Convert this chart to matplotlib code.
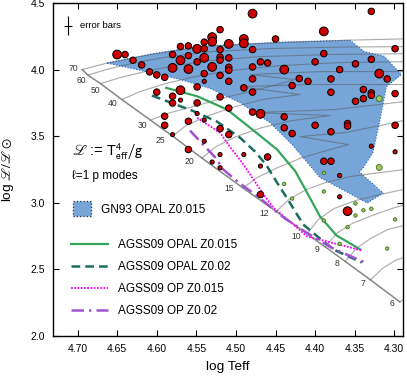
import matplotlib
matplotlib.use("Agg")
import matplotlib.pyplot as plt
from matplotlib.patches import Polygon, Patch
from matplotlib.lines import Line2D
import numpy as np

plt.rcParams['font.family'] = ['Liberation Sans', 'DejaVu Sans']
plt.rcParams['mathtext.fontset'] = 'custom'
plt.rcParams['mathtext.rm'] = 'Liberation Sans'
plt.rcParams['mathtext.it'] = 'Liberation Sans:italic'
plt.rcParams['mathtext.bf'] = 'Liberation Sans:bold'

# ---------------- data ----------------
# ZAMS masses and positions
masses = [70, 60, 50, 40, 30, 25, 20, 15, 12, 10, 9, 8, 7, 6]
zams_T = [4.694, 4.687, 4.671, 4.644, 4.608, 4.580, 4.543, 4.491, 4.449, 4.410, 4.387, 4.362, 4.330, 4.293]
zams_L = [4.000, 3.959, 3.895, 3.775, 3.621, 3.501, 3.336, 3.111, 2.935, 2.766, 2.668, 2.560, 2.421, 2.256]

# evolutionary tracks (log Teff, log L)
trk70_T = [4.694, 4.663, 4.608, 4.545, 4.444, 4.356, 4.277]
trk70_L = [4.000, 4.049, 4.113, 4.173, 4.203, 4.221, 4.232]
trk60_T = [4.687, 4.659, 4.621, 4.583, 4.532, 4.457, 4.368, 4.277]
trk60_L = [3.959, 4.008, 4.060, 4.098, 4.135, 4.158, 4.169, 4.173]
trk50_T = [4.671, 4.646, 4.615, 4.577, 4.532, 4.469, 4.381, 4.277]
trk50_L = [3.895, 3.940, 3.985, 4.030, 4.068, 4.098, 4.113, 4.120]
trk40_T = [4.644, 4.621, 4.589, 4.551, 4.507, 4.444, 4.368, 4.277]
trk40_L = [3.775, 3.835, 3.895, 3.948, 3.993, 4.030, 4.053, 4.060]
trk30_T = [4.608, 4.583, 4.549, 4.514, 4.472, 4.425, 4.482, 4.394, 4.277]
trk30_L = [3.621, 3.677, 3.730, 3.790, 3.850, 3.925, 3.963, 3.985, 3.985]
trk25_T = [4.580, 4.563, 4.538, 4.505, 4.467, 4.419, 4.495, 4.406, 4.277]
trk25_L = [3.501, 3.580, 3.647, 3.715, 3.775, 3.813, 3.872, 3.888, 3.888]
trk20_T = [4.543, 4.525, 4.500, 4.467, 4.429, 4.381, 4.476, 4.375, 4.277]
trk20_L = [3.336, 3.422, 3.497, 3.565, 3.617, 3.655, 3.677, 3.700, 3.767]
trk15_T = [4.491, 4.473, 4.447, 4.416, 4.381, 4.358, 4.419, 4.362, 4.318, 4.277]
trk15_L = [3.111, 3.190, 3.265, 3.340, 3.400, 3.437, 3.497, 3.527, 3.580, 3.632]
trk12_T = [4.449, 4.433, 4.411, 4.387, 4.356, 4.318, 4.277]
trk12_L = [2.935, 3.025, 3.100, 3.152, 3.197, 3.227, 3.257]
trk10_T = [4.410, 4.396, 4.376, 4.349, 4.318, 4.277]
trk10_L = [2.766, 2.875, 2.957, 3.017, 3.062, 3.115]
trk9_T = [4.387, 4.373, 4.353, 4.328, 4.299, 4.277]
trk9_L = [2.668, 2.770, 2.845, 2.905, 2.965, 3.002]
trk8_T = [4.362, 4.348, 4.330, 4.308, 4.277]
trk8_L = [2.560, 2.657, 2.732, 2.800, 2.845]
trk7_T = [4.330, 4.315, 4.299, 4.277]
trk7_L = [2.421, 2.507, 2.567, 2.612]
trk6_T = [4.293, 4.277]
trk6_L = [2.256, 2.320]

# GN93 OPAL Z0.015 instability region
gn93_T = [4.663, 4.608, 4.545, 4.444, 4.356, 4.338, 4.313, 4.291, 4.310, 4.318, 4.327,
          4.339, 4.344, 4.314, 4.334, 4.394, 4.428, 4.457, 4.495, 4.532, 4.570, 4.608]
gn93_L = [4.049, 4.116, 4.176, 4.206, 4.221, 4.135, 4.101, 3.963, 3.872, 3.625, 3.377,
          3.265, 3.231, 3.073, 2.998, 3.190, 3.430, 3.602, 3.752, 3.857, 3.925, 3.978]

# AGSS09 instability boundaries
opal015_T = [4.588, 4.549, 4.511, 4.474, 4.448, 4.425, 4.410, 4.394, 4.373, 4.343]
opal015_L = [3.863, 3.800, 3.700, 3.525, 3.400, 3.237, 3.075, 2.899, 2.755, 2.650]
opal02_T = [4.606, 4.554, 4.524, 4.495, 4.476, 4.462, 4.449, 4.440, 4.432, 4.415, 4.397, 4.377, 4.341]
opal02_L = [3.805, 3.689, 3.610, 3.490, 3.385, 3.287, 3.160, 3.077, 3.002, 2.837, 2.747, 2.650, 2.552]
op015_T = [4.549, 4.520, 4.507, 4.495, 4.482, 4.466, 4.453, 4.435, 4.410, 4.385, 4.341]
op015_L = [3.638, 3.525, 3.415, 3.325, 3.212, 3.070, 2.965, 2.875, 2.747, 2.710, 2.642]
op02_T = [4.558, 4.539, 4.526, 4.516, 4.501, 4.488, 4.472, 4.457, 4.438, 4.419, 4.397, 4.375, 4.337]
op02_L = [3.542, 3.422, 3.340, 3.250, 3.175, 3.115, 3.047, 2.972, 2.882, 2.807, 2.725, 2.650, 2.552]

# observed stars
red_T = [4.479, 4.329, 4.520, 4.389, 4.450, 4.490, 4.490, 4.530, 4.530, 4.540,
         4.509, 4.570, 4.560, 4.549, 4.540, 4.520, 4.479, 4.299, 4.389, 4.650,
         4.640, 4.580, 4.560, 4.540, 4.520, 4.520, 4.509, 4.570, 4.630, 4.549,
         4.469, 4.460, 4.400, 4.349, 4.329, 4.619, 4.580, 4.560, 4.530, 4.509,
         4.509, 4.479, 4.439, 4.369, 4.609, 4.600, 4.590, 4.540, 4.520, 4.540,
         4.509, 4.479, 4.420, 4.409, 4.380, 4.319, 4.309, 4.549, 4.490, 4.479,
         4.429, 4.380, 4.339, 4.329, 4.329, 4.299, 4.349, 4.339, 4.600, 4.570,
         4.580, 4.580, 4.570, 4.549, 4.520, 4.509, 4.479, 4.469, 4.439, 4.590,
         4.590, 4.580, 4.560, 4.549, 4.540, 4.520, 4.509, 4.540, 4.560, 4.520,
         4.530, 4.520, 4.490, 4.460, 4.469, 4.469, 4.439, 4.429, 4.400, 4.359,
         4.359, 4.380, 4.299, 4.329, 4.299, 4.389, 4.380, 4.369, 4.369, 4.359]
red_L = [4.420, 4.437, 4.300, 4.287, 4.230, 4.230, 4.197, 4.244, 4.210, 4.206,
         4.193, 4.173, 4.178, 4.156, 4.157, 4.150, 4.150, 4.157, 4.120, 4.113,
         4.113, 4.113, 4.105, 4.088, 4.094, 4.071, 4.088, 4.070, 4.070, 4.058,
         4.058, 4.050, 4.058, 4.043, 4.077, 4.035, 4.013, 4.004, 4.020, 4.017,
         3.995, 4.020, 4.000, 4.000, 3.983, 3.960, 3.942, 3.970, 3.957, 3.912,
         3.912, 3.930, 3.933, 3.912, 3.930, 3.970, 3.930, 3.870, 3.863, 3.831,
         3.880, 3.830, 3.850, 3.825, 3.807, 3.820, 3.762, 3.782, 3.831, 3.845,
         3.800, 3.749, 3.771, 3.750, 3.795, 3.711, 3.681, 3.668, 3.645, 3.650,
         3.582, 3.512, 3.612, 3.670, 3.621, 3.557, 3.512, 3.462, 3.400, 3.362,
         3.306, 3.263, 3.362, 3.344, 3.276, 3.062, 3.563, 3.520, 3.582, 3.595,
         3.576, 3.533, 3.582, 3.425, 3.383, 3.312, 3.312, 3.205, 3.045, 2.937]
red_class = [3, 2, 2, 3, 2, 3, 3, 3, 3, 2,
             3, 2, 2, 3, 2, 2, 2, 2, 2, 3,
             2, 2, 2, 3, 2, 2, 2, 3, 2, 2,
             2, 2, 2, 2, 2, 2, 3, 3, 3, 2,
             2, 2, 3, 2, 2, 2, 2, 2, 2, 1,
             2, 2, 2, 2, 2, 3, 2, 2, 2, 2,
             2, 2, 2, 2, 2, 2, 2, 2, 2, 3,
             2, 2, 1, 2, 2, 2, 2, 3, 2, 2,
             2, 1, 2, 1, 1, 2, 2, 1, 2, 1,
             1, 1, 1, 2, 1, 2, 2, 2, 2, 2,
             2, 2, 2, 1, 1, 2, 2, 1, 1, 3]

green_T = [4.319, 4.319, 4.389, 4.389, 4.439, 4.429, 4.389, 4.349, 4.339, 4.329,
           4.349, 4.299, 4.359, 4.369, 4.309]
green_L = [3.782, 3.265, 3.225, 3.085, 3.142, 3.032, 2.867, 2.995, 2.944, 2.955,
           2.905, 2.875, 2.817, 2.692, 2.657]
green_class = [2, 2, 1, 1, 1, 1, 1, 1, 1, 1, 1, 1, 1, 1, 1]

# typical error bars
err_T, err_L = 4.712, 4.330
err_dT, err_dL = 0.005, 0.07

xticks = [4.70, 4.65, 4.60, 4.55, 4.50, 4.45, 4.40, 4.35, 4.30]
yticks = [2.0, 2.5, 3.0, 3.5, 4.0, 4.5]

legend_labels = ['GN93 OPAL Z0.015', 'AGSS09 OPAL Z0.015', 'AGSS09 OPAL Z0.02',
                 'AGSS09 OP Z0.015', 'AGSS09 OP Z0.02']

# ---------------- layout (label offsets in points, per mass) ----------------
lab_dx = [-6.5, -4.3, -3.6, -6.5, -5.8, -8.6, -8.6, -10.0, -8.6, -7.9, -5.8, -5.8, -5.8, -5.8]
lab_dy = [0.7, -4.0, -5.0, -2.9, -4.0, -3.2, -2.5, -0.4, -1.4, -1.8, -1.8, -1.4, -2.5, -1.1]

# ---------------- figure ----------------
fig = plt.figure(figsize=(4.07, 3.84), dpi=100)
ax = fig.add_axes([53/407, 48/384, 350/407, 333/384])

blue_fill = '#78a5d7'
poly = Polygon(np.column_stack([gn93_T, gn93_L]), closed=True, facecolor=blue_fill,
               edgecolor='#1f64c8', linestyle=':', linewidth=0.8, zorder=1)
ax.add_patch(poly)

tracks = [(trk70_T, trk70_L), (trk60_T, trk60_L), (trk50_T, trk50_L), (trk40_T, trk40_L),
          (trk30_T, trk30_L), (trk25_T, trk25_L), (trk20_T, trk20_L), (trk15_T, trk15_L),
          (trk12_T, trk12_L), (trk10_T, trk10_L), (trk9_T, trk9_L), (trk8_T, trk8_L),
          (trk7_T, trk7_L), (trk6_T, trk6_L)]
for tT, tL in tracks:
    ax.plot(tT, tL, color='#555555', alpha=0.5, lw=0.8, zorder=2)

ax.plot(zams_T, zams_L, color='#555555', alpha=0.7, lw=1.1, zorder=2)
for m, t, l, dx, dy in zip(masses, zams_T, zams_L, lab_dx, lab_dy):
    ax.annotate(str(m), (t, l), xytext=(dx, dy), textcoords='offset points',
                ha='center', va='center', fontsize=6.2, color='#333333', zorder=3)

c_opal015 = '#36a55c'
c_opal02 = '#1b6e5f'
c_op015 = '#ff00ff'
c_op02 = '#a052d2'
ax.plot(opal015_T, opal015_L, color=c_opal015, lw=1.6, zorder=3)
ax.plot(opal02_T, opal02_L, color=c_opal02, lw=1.8, dashes=(3.5, 2), zorder=3)
ax.plot(op015_T, op015_L, color=c_op015, lw=1.3, linestyle=(0, (1, 0.8)), zorder=3)
ax.plot(op02_T, op02_L, color=c_op02, lw=1.8, linestyle=(0, (5, 2, 1, 2)), zorder=3)

size_map = {1: 9, 2: 22, 3: 40}
ax.scatter(red_T, red_L, s=[size_map[c] for c in red_class], facecolor='#cc0000',
           edgecolor='black', linewidth=0.7, zorder=4)
gsize_map = {1: 6, 2: 18}
ax.scatter(green_T, green_L, s=[gsize_map[c] for c in green_class], facecolor='#9ccc5e',
           edgecolor='#3a6a20', linewidth=0.6, zorder=4)

ax.errorbar(err_T, err_L, xerr=err_dT, yerr=err_dL, fmt='none', ecolor='black',
            elinewidth=0.8, capsize=0, zorder=4)
ax.text(0.077, 0.931, 'error bars', transform=ax.transAxes, fontsize=6.8,
        va='center', ha='left')

ax.text(0.054, 0.553, r'$\mathscr{L}$ := $\left.\mathrm{T}_{\mathrm{eff}}^{4}\right/\mathrm{g}$',
        transform=ax.transAxes, fontsize=10.5, va='center', ha='left',
        math_fontfamily='stixsans')
ax.text(0.054, 0.480, 'ℓ=1 p modes', transform=ax.transAxes, fontsize=8.5,
        va='center', ha='left')

# legends
leg1 = ax.legend(handles=[Patch(facecolor=blue_fill, edgecolor='#1a3050', linestyle=':',
                                linewidth=0.9)],
                 labels=[legend_labels[0]], loc='upper left', bbox_to_anchor=(0.056, 0.405),
                 frameon=False, fontsize=8.5, handlelength=1.6, handleheight=1.6,
                 handletextpad=0.8, borderpad=0, borderaxespad=0)
ax.add_artist(leg1)
line_handles = [Line2D([], [], color=c_opal015, lw=1.6),
                Line2D([], [], color=c_opal02, lw=1.8, dashes=(3.5, 2)),
                Line2D([], [], color=c_op015, lw=1.3, linestyle=(0, (1, 0.8))),
                Line2D([], [], color=c_op02, lw=1.8, linestyle=(0, (5, 2, 1, 2)))]
ax.legend(handles=line_handles, labels=legend_labels[1:], loc='upper left',
          bbox_to_anchor=(0.0514, 0.292), frameon=False, fontsize=8.5,
          handlelength=3.13, handletextpad=0.85, labelspacing=0.86,
          borderpad=0, borderaxespad=0)

ax.set_xlim(4.731, 4.289)
ax.set_ylim(2.0, 4.5)
ax.set_xticks(xticks)
ax.set_xticklabels([f'{v:.2f}' for v in xticks])
ax.set_yticks(yticks)
ax.set_yticklabels([f'{v:.1f}' for v in yticks])
ax.tick_params(direction='in', length=4, width=0.8, top=True, right=True,
               labelsize=7.5, pad=6)
for s in ax.spines.values():
    s.set_linewidth(1.0)

ax.set_xlabel('log Teff', fontsize=9.7, labelpad=5)
ax.set_ylabel(r'log $\mathscr{L}/\mathscr{L}\odot$', fontsize=9.7, math_fontfamily='stixsans')
ax.yaxis.set_label_coords(-0.105, 0.5)

fig.savefig('out.png', dpi=100)
